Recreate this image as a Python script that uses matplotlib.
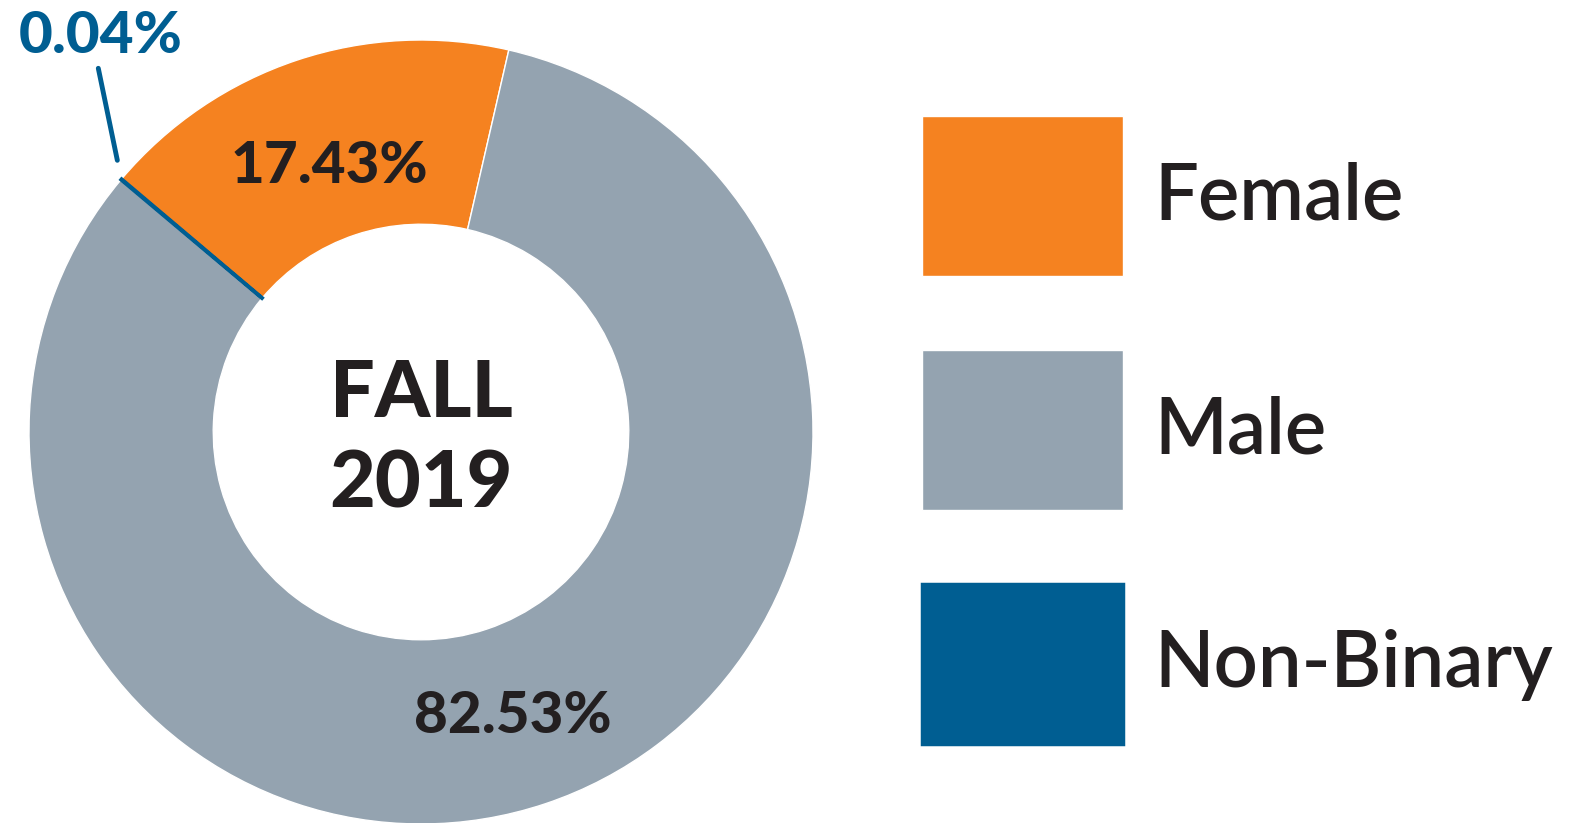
import numpy as np
import matplotlib.pyplot as plt

# Fall 2019 enrollment by gender (percent)
categories = ['Female', 'Male', 'Non-Binary']
shares = [17.43, 82.53, 0.04]
colors = ['#F58220', '#94A3B0', '#005E92']
center_text = 'FALL\n2019'

plt.rcParams['font.family'] = ['Lato', 'DejaVu Sans']
text_dark = '#231F20'

W, H = 1569, 823
fig = plt.figure(figsize=(W / 100, H / 100), dpi=100)

# donut centre and outer radius in pixels
cx, cy, r = 421, 432, 392
ax = fig.add_axes([(cx - r) / W, (H - cy - r) / H, 2 * r / W, 2 * r / H])


def pct_label(p):
    # tiny slices get an outside label instead
    return f'{p:.2f}%' if p >= 1 else ''


wedges, texts, autotexts = ax.pie(
    shares, colors=colors, startangle=139.8, counterclock=False,
    autopct=pct_label, pctdistance=0.74,
    wedgeprops=dict(width=0.47, edgecolor='white', linewidth=1),
    textprops=dict(fontsize=42, fontweight='black', color=text_dark))
ax.set_xlim(-1, 1)
ax.set_ylim(-1, 1)
ax.set_aspect('equal')

# centre the cap height rather than the full text box
for t in autotexts:
    x, y = t.get_position()
    t.set_position((x, y - 0.025))

# non-binary slice is too thin to see, give it an outline
nb = wedges[2]
nb.set_edgecolor(colors[2])
nb.set_linewidth(2.5)

# outside label with a leader line pointing at the slice
ang = np.deg2rad((nb.theta1 + nb.theta2) / 2)
ax.annotate(f'{shares[2]:.2f}%', xy=(np.cos(ang), np.sin(ang)),
            xytext=(-15, 103), textcoords='offset points',
            ha='center', va='center', fontsize=42, fontweight='black',
            color=colors[2], annotation_clip=False,
            arrowprops=dict(arrowstyle='-', color=colors[2], lw=3.5,
                            relpos=(0.48, 0), shrinkA=2, shrinkB=14))

ax.text(0, -0.02, center_text, ha='center', va='center', fontsize=57,
        fontweight='black', color=text_dark, linespacing=1.33)

fig.legend(wedges, categories, loc='upper left',
           bbox_to_anchor=(922 / W, 1 - 116 / H), frameon=False,
           labelcolor=text_dark,
           prop=dict(family=['Lato', 'DejaVu Sans'], size=56, weight='semibold'),
           handlelength=2.58, handleheight=2.79, handletextpad=0.41,
           labelspacing=0.95, borderpad=0, borderaxespad=0)

fig.savefig('out.png', dpi=100, facecolor='white')
